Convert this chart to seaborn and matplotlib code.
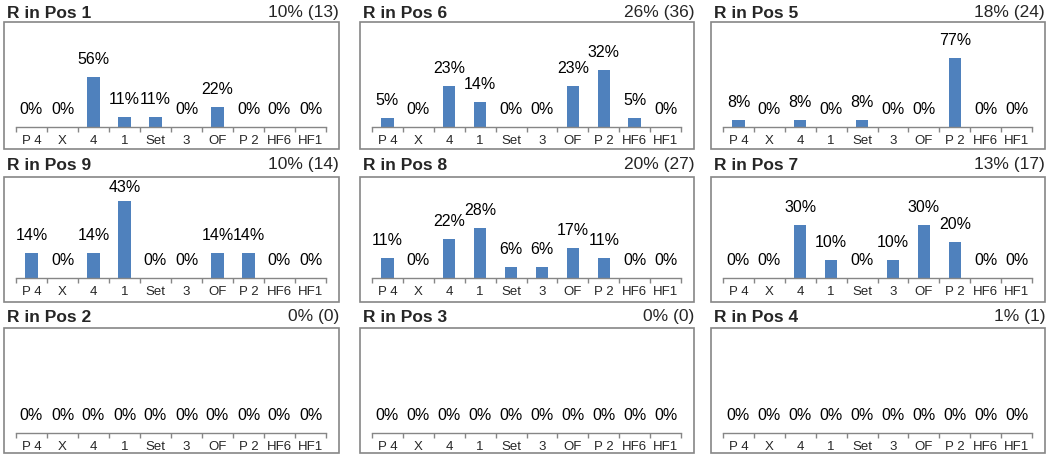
import matplotlib
matplotlib.use('Agg')
import matplotlib.pyplot as plt
import seaborn as sns
import pandas as pd
from matplotlib.patches import Rectangle

# categories on the x axis of every panel
cats = ['P 4', 'X', '4', '1', 'Set', '3', 'OF', 'P 2', 'HF6', 'HF1']

# percent values per panel
pos1 = [0, 0, 56, 11, 11, 0, 22, 0, 0, 0]
pos6 = [5, 0, 23, 14, 0, 0, 23, 32, 5, 0]
pos5 = [8, 0, 8, 0, 8, 0, 0, 77, 0, 0]
pos9 = [14, 0, 14, 43, 0, 0, 14, 14, 0, 0]
pos8 = [11, 0, 22, 28, 6, 6, 17, 11, 0, 0]
pos7 = [0, 0, 30, 10, 0, 10, 30, 20, 0, 0]
pos2 = [0, 0, 0, 0, 0, 0, 0, 0, 0, 0]
pos3 = [0, 0, 0, 0, 0, 0, 0, 0, 0, 0]
pos4 = [0, 0, 0, 0, 0, 0, 0, 0, 0, 0]

titles = ['R in Pos 1', 'R in Pos 6', 'R in Pos 5',
          'R in Pos 9', 'R in Pos 8', 'R in Pos 7',
          'R in Pos 2', 'R in Pos 3', 'R in Pos 4']
shares = ['10% (13)', '26% (36)', '18% (24)',
          '10% (14)', '20% (27)', '13% (17)',
          '0% (0)', '0% (0)', '1% (1)']
panels = [pos1, pos6, pos5, pos9, pos8, pos7, pos2, pos3, pos4]

sns.set_style('white')
plt.rcParams['font.family'] = ['Liberation Sans', 'DejaVu Sans']

W, H = 1047, 458
fig = plt.figure(figsize=(W / 100, H / 100), dpi=100)

bar_color = '#4F81BD'
box_color = '#868686'

# pixel layout
box_left = [4, 360, 711]
box_w = [335, 334, 334]
box_top = [22, 177, 328]
box_bot = [149, 302, 453]
base_y = [127, 278, 433]
title_y = [13, 165, 317]
ax_h = 89


def px(x, y):
    return x / W, 1 - y / H


for i, (vals, ttl, shr) in enumerate(zip(panels, titles, shares)):
    r, c = divmod(i, 3)
    bl, bw = box_left[c], box_w[c]

    # outer box
    x0, y0 = px(bl, box_bot[r])
    fig.patches.append(Rectangle((x0, y0), bw / W, (box_bot[r] - box_top[r]) / H,
                                 transform=fig.transFigure, fill=False,
                                 edgecolor=box_color, linewidth=1.2))
    # headers
    tx, ty = px(bl + 3, title_y[r])
    fig.text(tx, ty, ttl, fontsize=12.5, fontweight='bold', va='center', ha='left')
    tx, ty = px(bl + bw, title_y[r])
    fig.text(tx, ty, shr, fontsize=12.5, va='center', ha='right')

    # inner axes
    ax_l = bl + 12
    ax_w = bw - 25
    ax = fig.add_axes([ax_l / W, 1 - base_y[r] / H, ax_w / W, ax_h / H])
    df = pd.DataFrame({'cat': cats, 'val': vals})
    sns.barplot(data=df, x='cat', y='val', ax=ax, color=bar_color,
                width=0.4, saturation=1, edgecolor='none')
    ymax = 100 if max(vals) > 50 else 50
    ax.set_ylim(0, ymax)
    ax.set_xlim(-0.5, len(cats) - 0.5)

    # data labels above the bars, kept inside the plot area like Excel does
    lim = base_y[r] - box_top[r] - 11
    for k, v in enumerate(vals):
        h = min(v / ymax * ax_h + 17.5, lim)
        ax.annotate(f'{v}%', (k, 0), xytext=(0, h * 0.72), textcoords='offset points',
                    ha='center', va='center', fontsize=11.5, color='#000000',
                    annotation_clip=False)
    for s in ['top', 'right', 'left']:
        ax.spines[s].set_visible(False)
    ax.spines['bottom'].set_color(box_color)
    ax.spines['bottom'].set_linewidth(1)
    ax.set_yticks([])
    ax.set_xlabel('')
    ax.set_ylabel('')
    ax.set_xticks(range(len(cats)))
    ax.set_xticklabels(cats, fontsize=9.5)
    ax.set_xticks([k - 0.5 for k in range(len(cats) + 1)], minor=True)
    ax.tick_params(axis='x', which='major', length=0, pad=5.5)
    ax.tick_params(axis='x', which='minor', length=3.5, color=box_color,
                   width=1, direction='out', bottom=True)
    ax.patch.set_alpha(0)

fig.savefig('out.png', dpi=100)
